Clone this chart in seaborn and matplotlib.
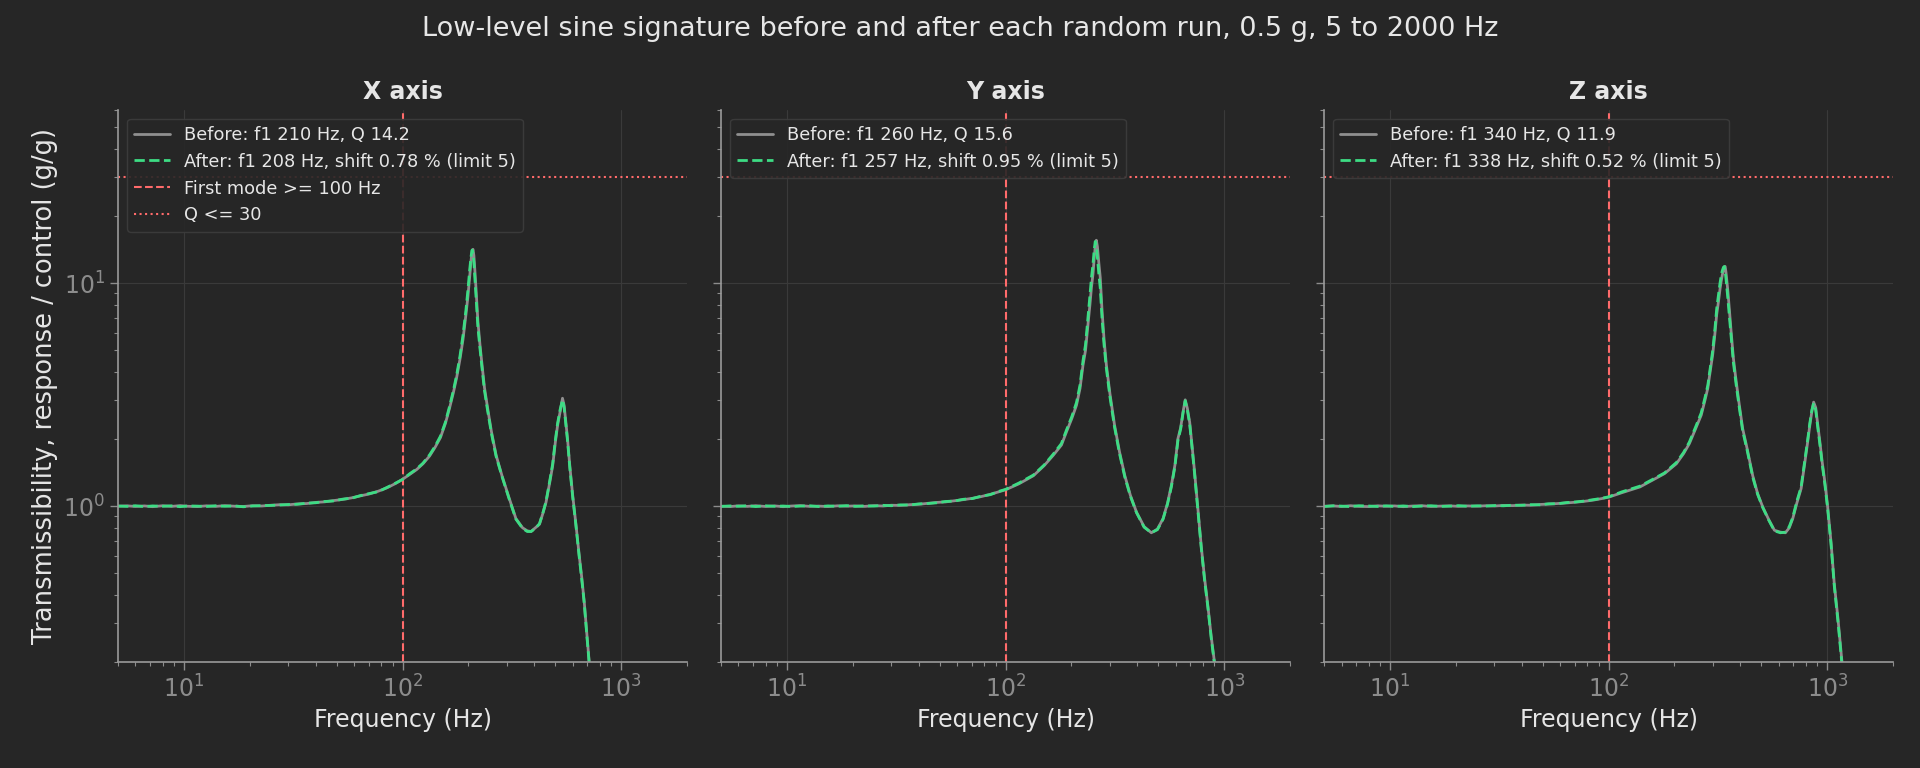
import matplotlib
matplotlib.use("Agg")
import matplotlib.pyplot as plt
import seaborn as sns

# --- data (frequency in Hz, transmissibility g/g) ---
freq_x = [5, 5.5, 6, 6.6, 7.2, 8, 8.8, 9.6, 10.5, 11.5, 12.7, 14, 15.4, 17, 18.7, 20.6, 22.7, 25, 27.5, 30,
          33, 36.5, 40, 44, 48.5, 53, 58.5, 64, 70.5, 77.5, 85, 93, 100,
          108, 116, 124, 133, 141, 149, 157, 164, 171, 177, 183, 189, 195, 199, 203, 206, 208, 210, 212, 215,
          218, 221, 226, 231, 237, 245, 255, 268, 285, 308, 330, 354, 372, 387, 405, 423, 440, 453, 470, 486,
          500, 512, 526, 539, 548, 556, 563, 569, 582, 600, 620, 643, 660, 678, 696, 714, 740, 770]
before_x = [1.000, 1.004, 0.997, 1.003, 0.995, 1.005, 0.998, 1.006, 0.999, 0.996, 1.004, 0.998, 1.006, 1.000,
            0.997, 1.005, 1.002, 1.010, 1.016, 1.014, 1.024, 1.028, 1.040, 1.046, 1.060, 1.072, 1.090, 1.112,
            1.135, 1.168, 1.210, 1.265, 1.320,
            1.39, 1.46, 1.55, 1.68, 1.84, 2.03, 2.35, 2.75, 3.25, 3.80, 4.55, 5.6, 7.25, 8.7, 10.8, 12.8, 13.9,
            14.2, 13.3, 10.8, 8.6, 6.8, 5.3, 4.3, 3.4, 2.75, 2.16, 1.69, 1.37, 1.08, 0.88, 0.80, 0.775, 0.77,
            0.80, 0.83, 0.94, 1.04, 1.26, 1.52, 1.94, 2.31, 2.66, 3.05, 2.84, 2.48, 2.20, 1.98, 1.52, 1.12,
            0.84, 0.60, 0.48, 0.37, 0.27, 0.20, 0.14, 0.10]
after_x = [1.002, 0.998, 1.005, 0.996, 1.003, 0.999, 1.004, 0.995, 1.003, 1.001, 0.997, 1.005, 0.999, 1.003,
           0.994, 1.002, 1.006, 1.008, 1.012, 1.018, 1.020, 1.032, 1.036, 1.050, 1.056, 1.075, 1.086, 1.115,
           1.140, 1.162, 1.215, 1.270, 1.318,
           1.40, 1.47, 1.56, 1.70, 1.86, 2.06, 2.38, 2.80, 3.32, 3.90, 4.70, 5.85, 7.6, 9.3, 11.6, 13.3, 14.1,
           13.6, 12.4, 9.9, 8.0, 6.4, 5.1, 4.15, 3.3, 2.68, 2.12, 1.67, 1.36, 1.07, 0.875, 0.795, 0.77, 0.77,
           0.795, 0.835, 0.945, 1.05, 1.28, 1.55, 1.98, 2.36, 2.72, 3.0, 2.78, 2.42, 2.15, 1.94, 1.49, 1.10,
           0.83, 0.59, 0.47, 0.365, 0.265, 0.197, 0.138, 0.098]

freq_y = [5, 5.5, 6, 6.6, 7.2, 8, 8.8, 9.6, 10.5, 11.5, 12.7, 14, 15.4, 17, 18.7, 20.6, 22.7, 25, 27.5, 30,
          33, 36.5, 40, 44, 48.5, 53, 58.5, 64, 70.5, 77.5, 85, 93, 100,
          115, 134, 150, 165, 180, 190, 201, 211, 219, 226, 232, 238, 243, 247, 251, 254, 257, 260, 263, 267,
          271, 276, 282, 289, 300, 315, 332, 351, 372, 397, 430, 464, 495, 525, 550, 573, 595, 614, 632, 648,
          663, 678, 695, 712, 732, 758, 785, 812, 842, 872, 903, 940]
before_y = [1.000, 0.996, 1.004, 0.998, 1.005, 0.997, 1.003, 0.995, 1.002, 1.006, 0.998, 1.001, 0.996, 1.004,
            1.000, 1.003, 0.998, 1.006, 1.002, 1.010, 1.008, 1.016, 1.020, 1.030, 1.040, 1.045, 1.058, 1.070,
            1.085, 1.105, 1.130, 1.160, 1.185,
            1.26, 1.37, 1.52, 1.69, 1.88, 2.16, 2.48, 2.84, 3.38, 4.3, 5.0, 6.5, 8.0, 9.6, 11.0, 12.8, 14.6,
            15.6, 14.6, 12.3, 10.6, 7.6, 5.6, 4.3, 3.2, 2.31, 1.75, 1.37, 1.12, 0.94, 0.81, 0.76, 0.79, 0.88,
            1.03, 1.24, 1.53, 2.01, 2.25, 2.65, 3.0, 2.75, 2.38, 1.88, 1.42, 0.97, 0.66, 0.48, 0.356, 0.26,
            0.198, 0.145]
after_y = [0.998, 1.003, 0.999, 1.005, 0.996, 1.004, 0.999, 1.002, 0.997, 1.001, 1.005, 0.996, 1.003, 0.999,
           1.006, 0.998, 1.004, 1.001, 1.009, 1.005, 1.014, 1.012, 1.024, 1.028, 1.036, 1.050, 1.055, 1.074,
           1.082, 1.110, 1.126, 1.165, 1.190,
           1.27, 1.38, 1.53, 1.71, 1.91, 2.20, 2.53, 2.92, 3.50, 4.5, 5.3, 7.0, 8.8, 10.6, 12.2, 14.0, 15.4,
           14.8, 13.0, 11.0, 9.5, 7.0, 5.3, 4.15, 3.1, 2.26, 1.72, 1.35, 1.11, 0.935, 0.805, 0.76, 0.785,
           0.875, 1.02, 1.22, 1.51, 1.97, 2.22, 2.62, 2.97, 2.7, 2.33, 1.84, 1.39, 0.95, 0.65, 0.47, 0.35,
           0.255, 0.195, 0.142]

freq_z = [5, 5.5, 6, 6.6, 7.2, 8, 8.8, 9.6, 10.5, 11.5, 12.7, 14, 15.4, 17, 18.7, 20.6, 22.7, 25, 27.5, 30,
          33, 36.5, 40, 44, 48.5, 53, 58.5, 64, 70.5, 77.5, 85, 93, 100,
          115, 139, 159, 180, 204, 220, 234, 250, 265, 276, 284, 292, 299, 306, 312, 318, 323, 327, 331, 335,
          338, 341, 344, 347, 351, 357, 363, 372, 383, 396, 410, 430, 456, 480, 507, 540, 573, 610, 643, 670,
          695, 725, 759, 790, 813, 832, 850, 866, 885, 903, 925, 946, 975, 1003, 1040, 1076, 1120, 1167, 1220]
before_z = [1.000, 1.003, 0.997, 1.005, 0.998, 0.996, 1.004, 0.999, 1.003, 0.995, 1.002, 1.005, 0.997, 1.001,
            1.004, 0.998, 1.003, 1.000, 1.005, 1.002, 1.008, 1.006, 1.012, 1.010, 1.018, 1.022, 1.028, 1.034,
            1.042, 1.052, 1.065, 1.082, 1.098,
            1.15, 1.22, 1.31, 1.40, 1.55, 1.72, 1.91, 2.23, 2.56, 3.0, 3.38, 4.09, 4.78, 5.9, 7.25, 8.3, 9.4,
            10.2, 10.9, 11.5, 11.8, 11.9, 11.2, 10.3, 9.2, 7.5, 6.1, 4.6, 3.63, 2.84, 2.23, 1.81, 1.37, 1.14,
            0.99, 0.87, 0.78, 0.765, 0.76, 0.80, 0.88, 1.03, 1.20, 1.58, 1.94, 2.31, 2.66, 2.93, 2.77, 2.35,
            1.94, 1.60, 1.28, 1.00, 0.69, 0.45, 0.31, 0.20, 0.126]
after_z = [0.997, 1.004, 1.001, 0.996, 1.005, 1.002, 0.997, 1.004, 0.998, 1.003, 0.996, 1.001, 1.005, 0.998,
           1.000, 1.006, 0.999, 1.004, 1.001, 1.007, 1.004, 1.011, 1.009, 1.016, 1.014, 1.025, 1.026, 1.038,
           1.045, 1.055, 1.070, 1.085, 1.102,
           1.16, 1.23, 1.32, 1.41, 1.57, 1.74, 1.94, 2.27, 2.62, 3.08, 3.48, 4.22, 4.98, 6.2, 7.7, 8.9, 10.0,
           10.8, 11.4, 11.8, 11.9, 11.4, 10.5, 9.6, 8.5, 7.0, 5.8, 4.4, 3.5, 2.76, 2.18, 1.78, 1.35, 1.13,
           0.985, 0.865, 0.775, 0.76, 0.765, 0.81, 0.89, 1.05, 1.22, 1.62, 1.98, 2.36, 2.7, 2.9, 2.7, 2.28,
           1.89, 1.56, 1.25, 0.98, 0.675, 0.44, 0.30, 0.195, 0.123]

panel_titles = ["X axis", "Y axis", "Z axis"]
before_labels = ["Before: f1 210 Hz, Q 14.2", "Before: f1 260 Hz, Q 15.6", "Before: f1 340 Hz, Q 11.9"]
after_labels = ["After: f1 208 Hz, shift 0.78 % (limit 5)",
                "After: f1 257 Hz, shift 0.95 % (limit 5)",
                "After: f1 338 Hz, shift 0.52 % (limit 5)"]
first_mode_limit = 100
q_limit = 30

BG = "#262626"
TEXT = "#e6e6e6"
TICK = "#8c8c8c"

sns.set_theme(style="darkgrid", rc={
    "figure.facecolor": BG,
    "axes.facecolor": BG,
    "axes.edgecolor": "#9a9a9a",
    "axes.linewidth": 1.2,
    "grid.color": "#3a3a3a",
    "grid.linewidth": 0.8,
    "text.color": TEXT,
    "axes.labelcolor": TEXT,
    "xtick.color": TICK,
    "ytick.color": TICK,
    "xtick.bottom": True,
    "ytick.left": True,
})
plt.rcParams["font.family"] = ["DejaVu Sans"]

fig, axes = plt.subplots(1, 3, figsize=(19.2, 7.68), dpi=100, sharey=True)
fig.subplots_adjust(left=0.0615, right=0.986, bottom=0.138, top=0.857, wspace=0.06)

series = [(freq_x, before_x, after_x), (freq_y, before_y, after_y), (freq_z, before_z, after_z)]

for i, ax in enumerate(axes):
    f, b, a = series[i]
    sns.lineplot(x=f, y=b, ax=ax, color="#8f8f8f", linewidth=2, label=before_labels[i], sort=False)
    sns.lineplot(x=f, y=a, ax=ax, color="#3ddc84", linewidth=2, linestyle="--",
                 label=after_labels[i], sort=False)
    ax.axvline(first_mode_limit, color="#ff6b6b", linestyle="--", linewidth=1.5, zorder=1.5,
               label="First mode >= 100 Hz" if i == 0 else None)
    ax.axhline(q_limit, color="#ff6b6b", linestyle=":", linewidth=1.5, zorder=1.5,
               label="Q <= 30" if i == 0 else None)

    ax.set_xscale("log")
    ax.set_yscale("log")
    ax.set_xlim(5, 2000)
    ax.set_ylim(0.2, 60)
    ax.grid(True, which="major")
    ax.grid(False, which="minor")
    sns.despine(ax=ax)
    ax.tick_params(which="major", length=6, width=1, labelsize=17, colors=TICK)
    ax.tick_params(which="minor", length=3, width=0.8, colors=TICK)
    ax.set_title(panel_titles[i], fontsize=17, fontweight="bold", color=TEXT, pad=8)
    ax.set_xlabel("Frequency (Hz)", fontsize=17, color=TEXT)
    ax.legend(loc="upper left", fontsize=12.8, frameon=True, facecolor="#262626",
              edgecolor="#3d3d3d", framealpha=0.9, labelcolor=TEXT)

axes[0].set_ylabel("Transmissibility, response / control (g/g)", fontsize=18.5, color=TEXT)

fig.suptitle("Low-level sine signature before and after each random run, 0.5 g, 5 to 2000 Hz",
             fontsize=19.5, color=TEXT, y=0.979)

fig.savefig("out.png", dpi=100, facecolor=BG)
